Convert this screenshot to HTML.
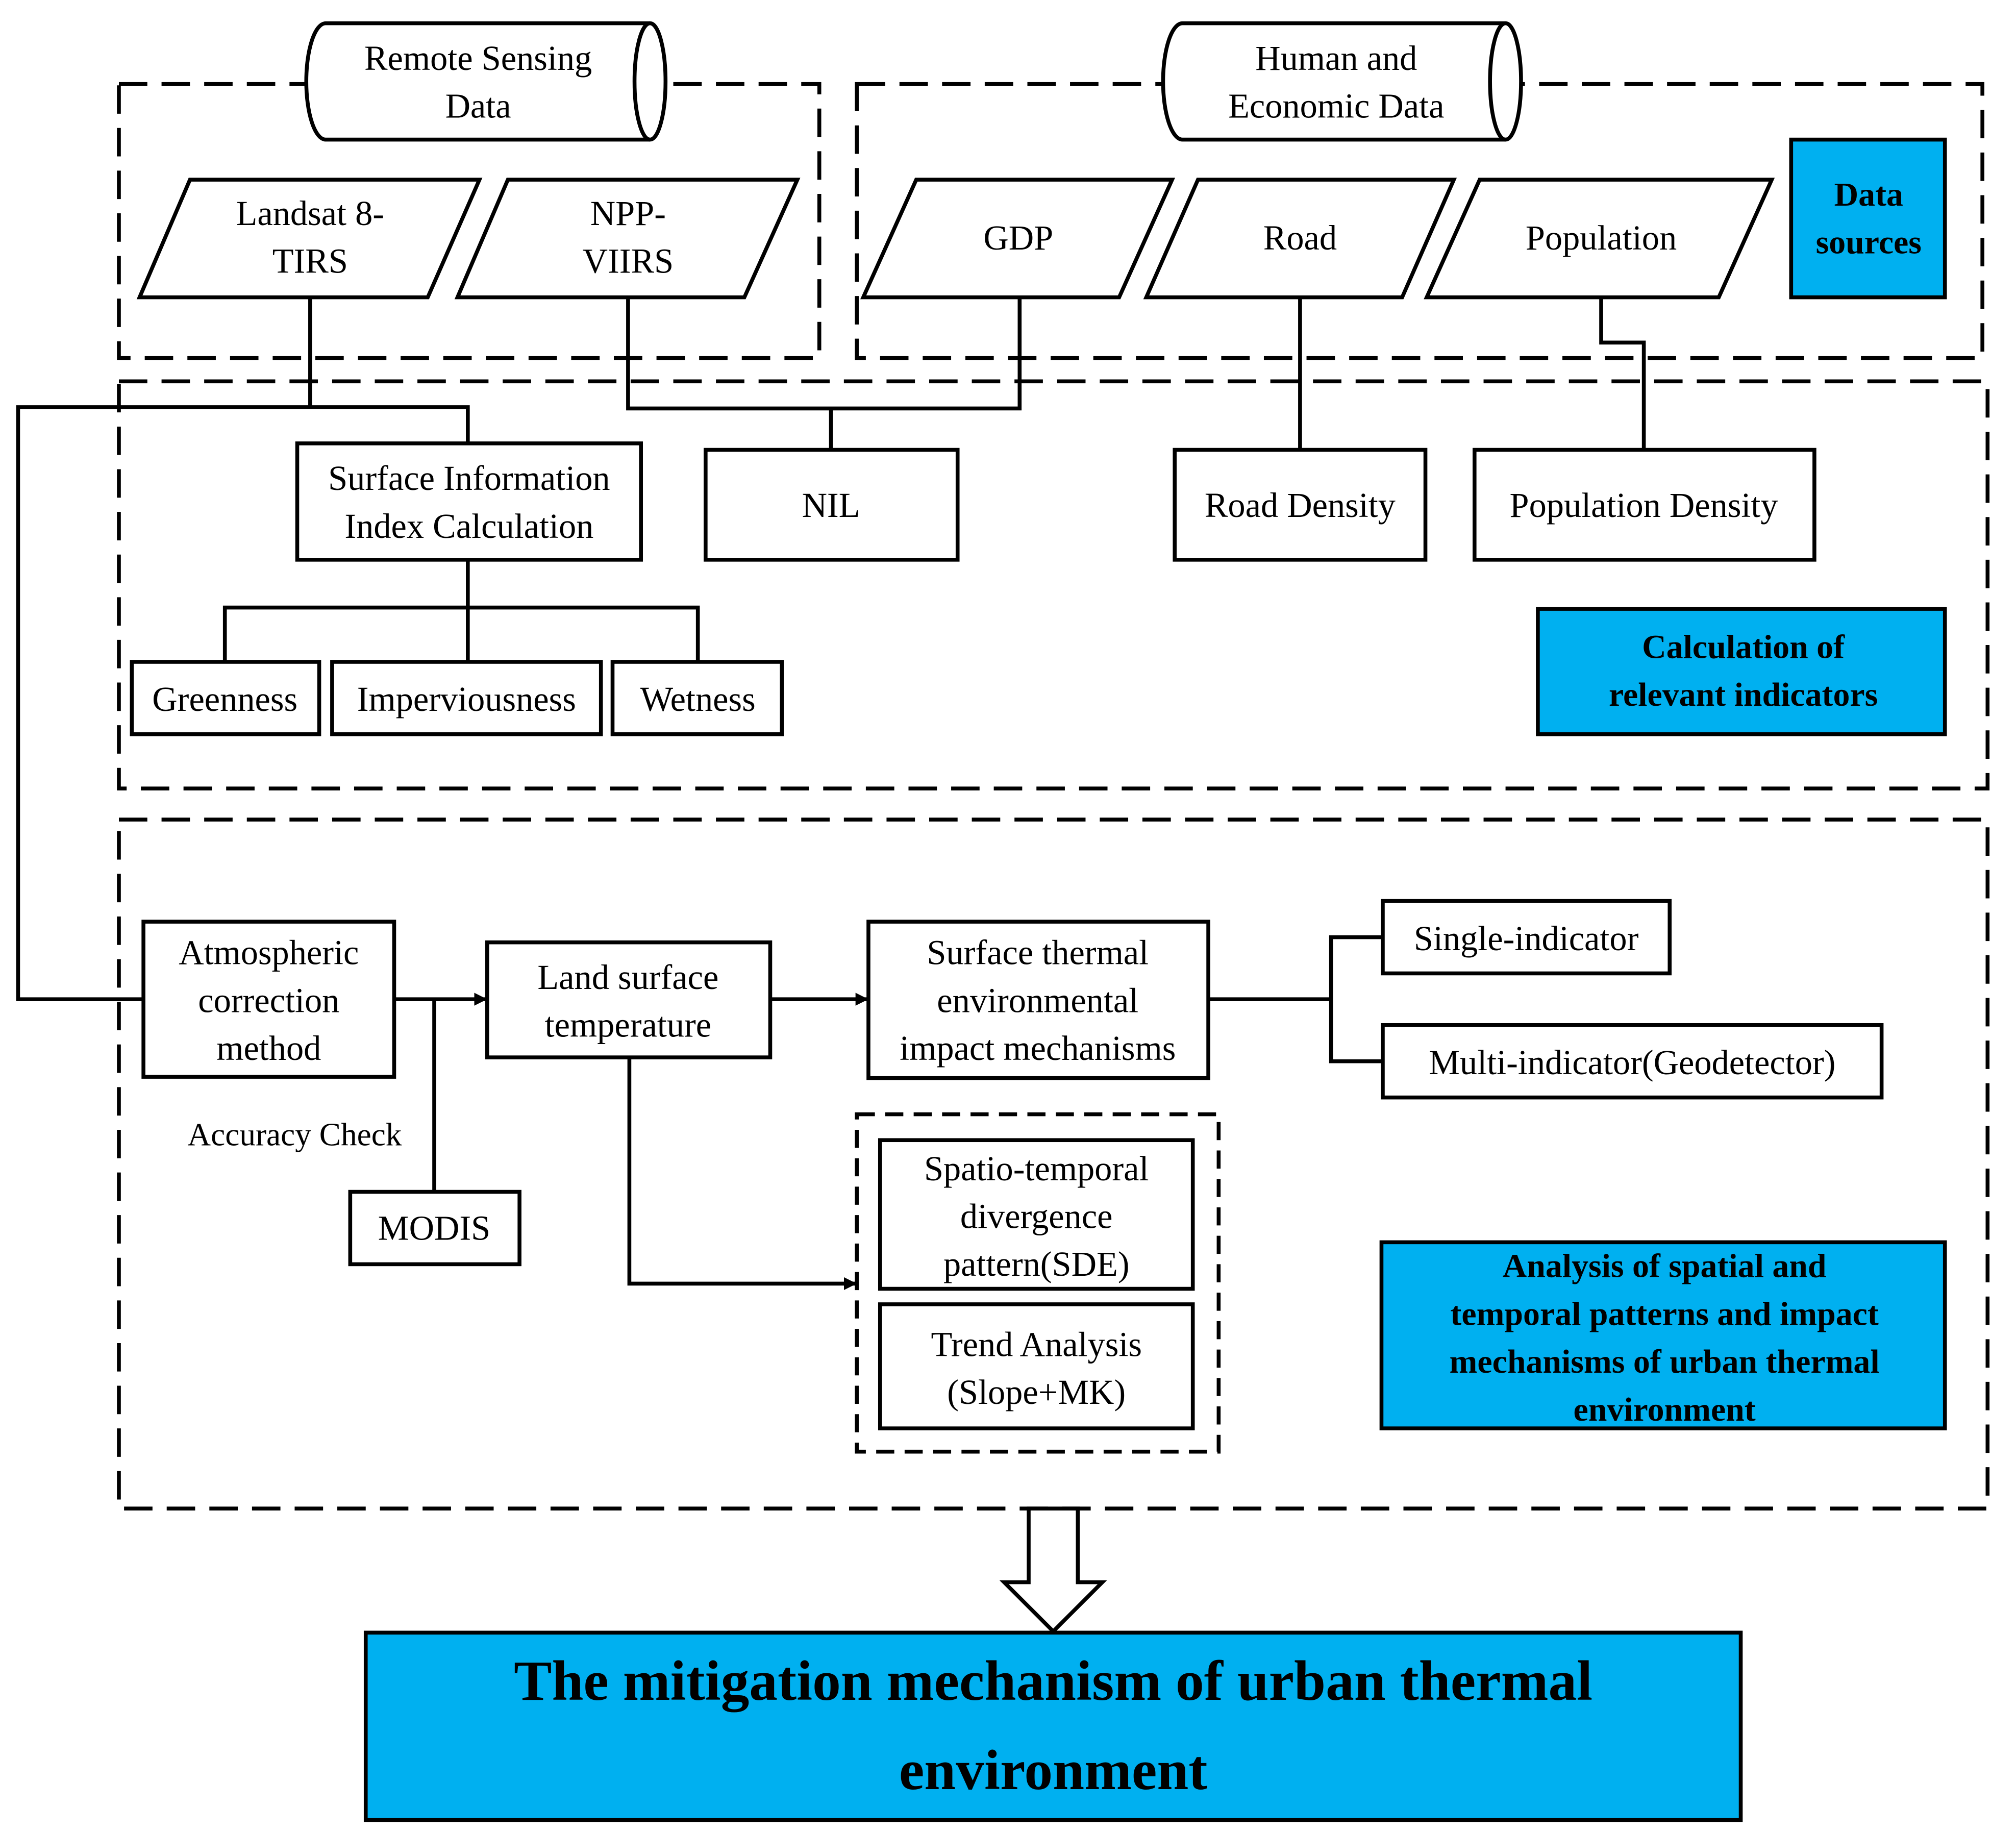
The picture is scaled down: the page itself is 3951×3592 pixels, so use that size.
<!DOCTYPE html>
<html><head><meta charset="utf-8"><style>
html,body{margin:0;padding:0;background:#fff}
svg{display:block}
text{font-family:"Liberation Serif",serif;fill:#000}
</style></head><body>
<svg width="3951" height="3592" viewBox="0 0 1560 1418" preserveAspectRatio="none" xmlns="http://www.w3.org/2000/svg">
<defs><marker id="ah" markerWidth="10" markerHeight="10" refX="9" refY="5" orient="auto" markerUnits="userSpaceOnUse"><path d="M0,0 L10,5 L0,10 z" fill="#000"/></marker></defs>
<g fill="none" stroke="#000" stroke-width="3" stroke-dasharray="22,11">
<rect x="92" y="65" width="542" height="212"/>
<rect x="663" y="65" width="871" height="212"/>
<rect x="92" y="295" width="1446" height="315"/>
<rect x="92" y="634" width="1446" height="533"/>
<rect x="663" y="862" width="280" height="261" stroke-dasharray="14,8"/>
</g>
<g stroke="#000" stroke-width="3" fill="#fff">
<path d="M252,18 L503,18 A12,45 0 0 1 503,108 L252,108 A15,45 0 0 1 252,18 z"/>
<path d="M503,18 A12,45 0 0 0 503,108" fill="none"/>
<path d="M915,18 L1165,18 A12,45 0 0 1 1165,108 L915,108 A15,45 0 0 1 915,18 z"/>
<path d="M1165,18 A12,45 0 0 0 1165,108" fill="none"/>
<polygon points="147,139 371,139 331,230 108,230"/>
<polygon points="393,139 617,139 576,230 354,230"/>
<polygon points="709,139 907,139 866,230 668,230"/>
<polygon points="927,139 1125,139 1085,230 887,230"/>
<polygon points="1145,139 1371,139 1330,230 1104,230"/>
</g>
<g stroke="#000" stroke-width="3" fill="none">
<polyline points="240,230 240,315"/>
<polyline points="362,343 362,315 14,315 14,773 111,773"/>
<polyline points="486,230 486,316 789,316 789,230"/>
<line x1="643" y1="316" x2="643" y2="348"/>
<line x1="1006" y1="230" x2="1006" y2="348"/>
<polyline points="1239,230 1239,265 1272,265 1272,348"/>
<polyline points="362,433 362,512"/>
<polyline points="174,512 174,470 540,470 540,512"/>
<line x1="305" y1="773" x2="376" y2="773" marker-end="url(#ah)"/>
<line x1="336" y1="773" x2="336" y2="922"/>
<line x1="596" y1="773" x2="671" y2="773" marker-end="url(#ah)"/>
<polyline points="487,818 487,993 662,993" marker-end="url(#ah)"/>
<line x1="935" y1="773" x2="1030" y2="773"/>
<polyline points="1070,725 1030,725 1030,821 1070,821"/>
</g>
<g stroke="#000" stroke-width="3" fill="#fff">
<rect x="230" y="343" width="266" height="90"/>
<rect x="546" y="348" width="195" height="85"/>
<rect x="909" y="348" width="194" height="85"/>
<rect x="1141" y="348" width="263" height="85"/>
<rect x="102" y="512" width="145" height="56"/>
<rect x="257" y="512" width="208" height="56"/>
<rect x="474" y="512" width="131" height="56"/>
<rect x="111" y="713" width="194" height="120"/>
<rect x="271" y="922" width="131" height="56"/>
<rect x="377" y="729" width="219" height="89"/>
<rect x="672" y="713" width="263" height="121"/>
<rect x="1070" y="697" width="222" height="56"/>
<rect x="1070" y="793" width="386" height="56"/>
<rect x="681" y="882" width="242" height="115"/>
<rect x="681" y="1009" width="242" height="96"/>
</g>
<g stroke="#000" stroke-width="3" fill="#00B0F0">
<rect x="1386" y="108" width="119" height="122"/>
<rect x="1190" y="471" width="315" height="97"/>
<rect x="1069" y="961" width="436" height="144"/>
<rect x="283" y="1263" width="1064" height="145"/>
</g>
<polygon points="796,1167 834,1167 834,1224 853,1224 815,1262 777,1224 796,1224" fill="#fff" stroke="#000" stroke-width="3"/>
<g font-size="27" text-anchor="middle">
<text x="370" y="54">Remote Sensing</text><text x="370" y="91">Data</text>
<text x="1034" y="54">Human and</text><text x="1034" y="91">Economic Data</text>
<text x="240" y="174">Landsat 8-</text><text x="240" y="211">TIRS</text>
<text x="486" y="174">NPP-</text><text x="486" y="211">VIIRS</text>
<text x="788" y="193">GDP</text>
<text x="1006" y="193">Road</text>
<text x="1239" y="193">Population</text>
<text x="363" y="379">Surface Information</text><text x="363" y="416">Index Calculation</text>
<text x="643" y="400">NIL</text>
<text x="1006" y="400">Road Density</text>
<text x="1272" y="400">Population Density</text>
<text x="174" y="550">Greenness</text>
<text x="361" y="550">Imperviousness</text>
<text x="540" y="550">Wetness</text>
<text x="208" y="746">Atmospheric</text><text x="208" y="783">correction</text><text x="208" y="820">method</text>
<text x="486" y="765">Land surface</text><text x="486" y="802">temperature</text>
<text x="803" y="746">Surface thermal</text><text x="803" y="783">environmental</text><text x="803" y="820">impact mechanisms</text>
<text x="1181" y="735">Single-indicator</text>
<text x="1263" y="831">Multi-indicator(Geodetector)</text>
<text x="228" y="886" font-size="25">Accuracy Check</text>
<text x="336" y="959">MODIS</text>
<text x="802" y="913">Spatio-temporal</text><text x="802" y="950">divergence</text><text x="802" y="987">pattern(SDE)</text>
<text x="802" y="1049">Trend Analysis</text><text x="802" y="1086">(Slope+MK)</text>
</g>
<g font-size="26" font-weight="bold" text-anchor="middle">
<text x="1446" y="159">Data</text><text x="1446" y="196">sources</text>
<text x="1349" y="509">Calculation of</text><text x="1349" y="546">relevant indicators</text>
<text x="1288" y="988">Analysis of spatial and</text><text x="1288" y="1025">temporal patterns and impact</text><text x="1288" y="1062">mechanisms of urban thermal</text><text x="1288" y="1099">environment</text>
<text x="815" y="1315" font-size="44">The mitigation mechanism of urban thermal</text>
<text x="815" y="1384" font-size="44">environment</text>
</g>
</svg>
</body></html>
